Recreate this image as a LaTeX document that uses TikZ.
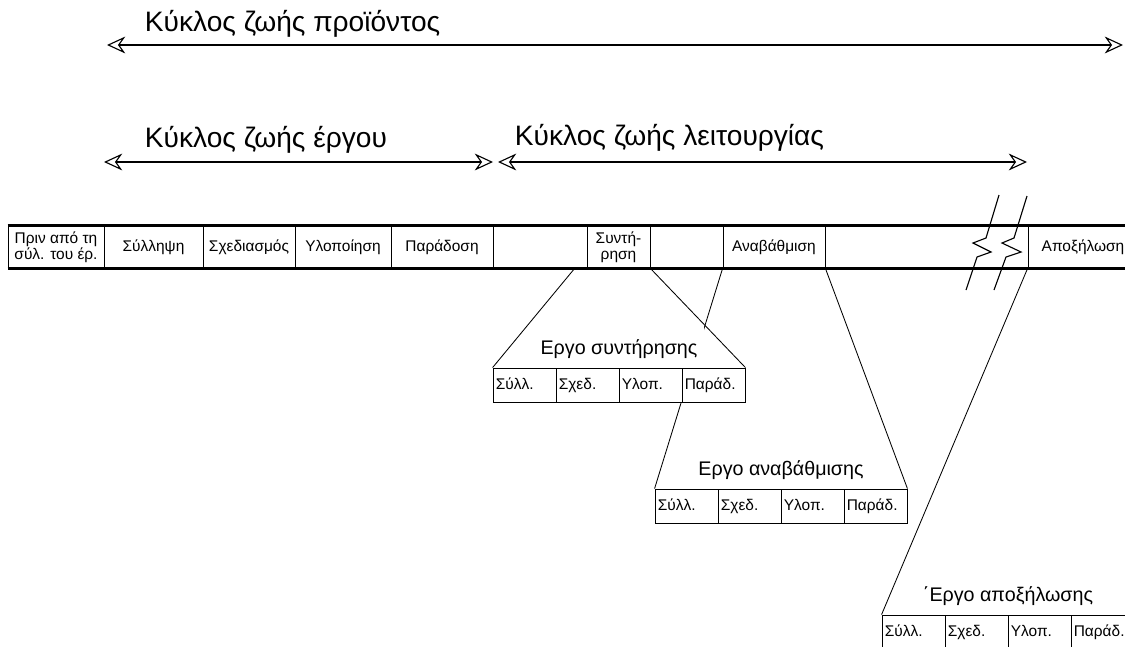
\documentclass[tikz,border=0pt]{standalone}
\usepackage{fontspec}
\setmainfont{Liberation Sans}
\usetikzlibrary{arrows.meta,backgrounds}
\begin{document}
\begin{tikzpicture}[x=0.025cm, y=-0.025cm, font=\fontsize{11}{11.5}\selectfont,
  cell/.style={draw, line width=0.6pt, inner sep=1pt, minimum height=42*0.025cm, align=center},
  sub/.style={draw, fill=white, line width=0.6pt, inner xsep=2pt, inner ysep=1pt, text width={63*0.025cm-4pt},
    align=left, minimum height=34*0.025cm, text height=1.6ex, text depth=0.3ex},
  life/.style={line width=0.8pt, {Stealth[open,length=13pt,width=12pt]}-{Stealth[open,length=13pt,width=12pt]}},
  ttl/.style={font=\fontsize{20}{23}\selectfont, anchor=west},
  subttl/.style={font=\fontsize{14}{16}\selectfont, fill=white, inner xsep=5pt, inner ysep=9pt},
  fan/.style={line width=0.6pt}]
  \clip (0,0) rectangle (1125,646); % page frame

  % Life cycle arrows
  \node[ttl] (prod) at (140,24) {Κύκλος ζωής προϊόντος};
  \coordinate (p0) at (107,45); \coordinate (p1) at (1123,45);
  \draw[life] (p0) -- (p1); % whole product
  \node[ttl] (proj) at (140,140) {Κύκλος ζωής έργου};
  \coordinate (q0) at (104,162); \coordinate (q1) at (493,162);
  \draw[life] (q0) -- (q1); % project
  \node[ttl] (oper) at (510,138) {Κύκλος ζωής λειτουργίας};
  \coordinate (r0) at (498,162); \coordinate (r1) at (1027,162);
  \draw[life] (r0) -- (r1); % operation

  % The phases bar
  \foreach \a/\b/\t/\n in {8/104/{Πριν από τη\\σύλ. του έρ.}/pre, 104/203/Σύλληψη/syl,
      203/295/Σχεδιασμός/sxe, 295/391/Υλοποίηση/ylo, 391/493/Παράδοση/par,
      493/587/{}/ea, 587/650/{Συντή-\\ρηση}/sint, 650/723/{}/eb,
      723/825/Αναβάθμιση/anab, 825/1028/{}/ec, 1028/1138/Αποξήλωση/apo} {
    \node[cell, minimum width={(\b-\a)*0.025cm}] (\n) at ({(\a+\b)/2},247) {\t};
  }
  \draw[line width=1.6pt] (pre.north west) -- (apo.north east); % top edge
  \draw[line width=1.6pt] (pre.south west) -- (apo.south east); % bottom edge

  % Break marks
  \draw[line width=0.8pt] (999,195) -- (986,238) -- (973,243) -- (991,252) -- (977,257) -- (966,290);
  \draw[line width=0.8pt] (1027,196) -- (1014,238) -- (1002,243) -- (1021,252) -- (1006,257) -- (994,290);

  % Sub-projects
  \foreach \x/\y/\s/\t in {493/385/a/{Εργο συντήρησης}, 655/506/b/{Εργο αναβάθμισης},
      882/632/c/{΄Εργο αποξήλωσης}} {
    \node[subttl] (t\s) at ({\x+126},{\y-36}) {\t};
    \foreach \c [count=\i] in {Σύλλ., Σχεδ., Υλοπ., Παράδ.} {
      \node[sub] (s\s\i) at ({\x+63*(\i-1)+31.5},\y) {\c};
    }
  }

  % Fan lines behind the boxes
  \begin{scope}[on background layer]
    \draw[fan] ([xshift=-8.5pt]sint.south west) -- (sa1.north west);
    \draw[fan] (sint.south east) -- (sa4.north east);
    \draw[fan] (anab.south west) -- (sb1.north west);
    \draw[fan] (anab.south east) -- (sb4.north east);
    \draw[fan] (apo.south west) -- (sc1.north west);
  \end{scope}
\end{tikzpicture}
\end{document}
